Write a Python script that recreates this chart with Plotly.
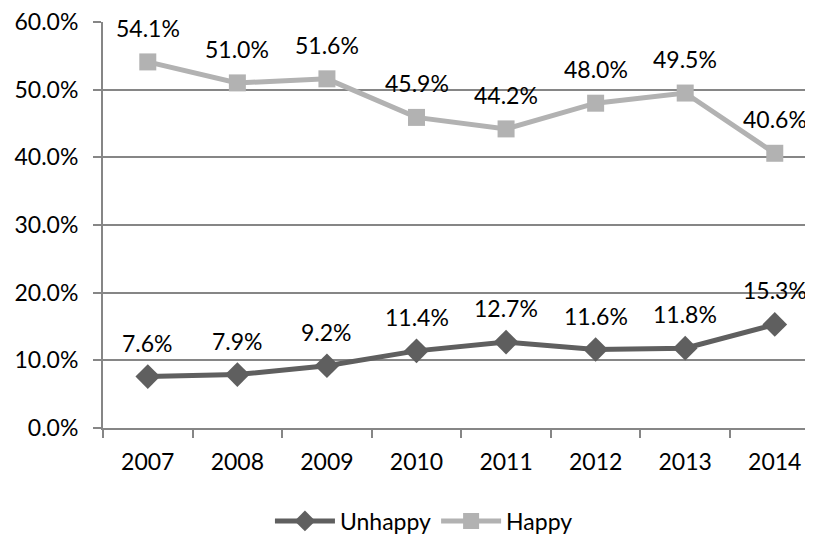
import plotly.graph_objects as go

years = ["2007", "2008", "2009", "2010", "2011", "2012", "2013", "2014"]
unhappy = [0.076, 0.079, 0.092, 0.114, 0.127, 0.116, 0.118, 0.153]
happy = [0.541, 0.510, 0.516, 0.459, 0.442, 0.480, 0.495, 0.406]

FONT = "Lato"
FS = 23
fig = go.Figure()
fig.add_trace(go.Scatter(x=years, y=unhappy, name="Unhappy", mode="lines+markers",
                         line=dict(color="#5f5f5f", width=5),
                         marker=dict(symbol="diamond", size=19, color="#5f5f5f")))
fig.add_trace(go.Scatter(x=years, y=happy, name="Happy", mode="lines+markers",
                         line=dict(color="#b2b2b2", width=5),
                         marker=dict(symbol="square", size=17, color="#b2b2b2")))

for series in (unhappy, happy):
    for i, yv in enumerate(series):
        fig.add_annotation(x=i, y=yv, xref="x", yref="y", text=f"{yv*100:.1f}%",
                           showarrow=False, yshift=34,
                           font=dict(family=FONT, size=FS, color="#000"))

fig.update_layout(
    width=813, height=539,
    margin=dict(l=95, r=0, t=14, b=119),
    paper_bgcolor="white", plot_bgcolor="white",
    font=dict(family=FONT, size=FS, color="#000"),
    showlegend=True,
    legend=dict(orientation="h", x=0.447, xanchor="center", y=-0.229, yanchor="middle",
                font=dict(family=FONT, size=FS), itemwidth=60),
)
fig.update_xaxes(type="category", range=[-0.5, 7.516], showgrid=False,
                 showline=True, linecolor="#868686", linewidth=2,
                 ticks="outside", tickson="boundaries", ticklen=8, tickwidth=2,
                 tickcolor="#868686", ticklabelstandoff=12)
fig.update_yaxes(range=[0, 0.6], dtick=0.1, tickformat=".1%", showgrid=True,
                 ticklabeloverflow="allow",
                 gridcolor="#868686", gridwidth=2, showline=True, linecolor="#868686",
                 linewidth=2, ticks="outside", ticklen=8, tickwidth=2, tickcolor="#868686",
                 zeroline=False, ticklabelstandoff=10)

fig.write_html("out.html")
